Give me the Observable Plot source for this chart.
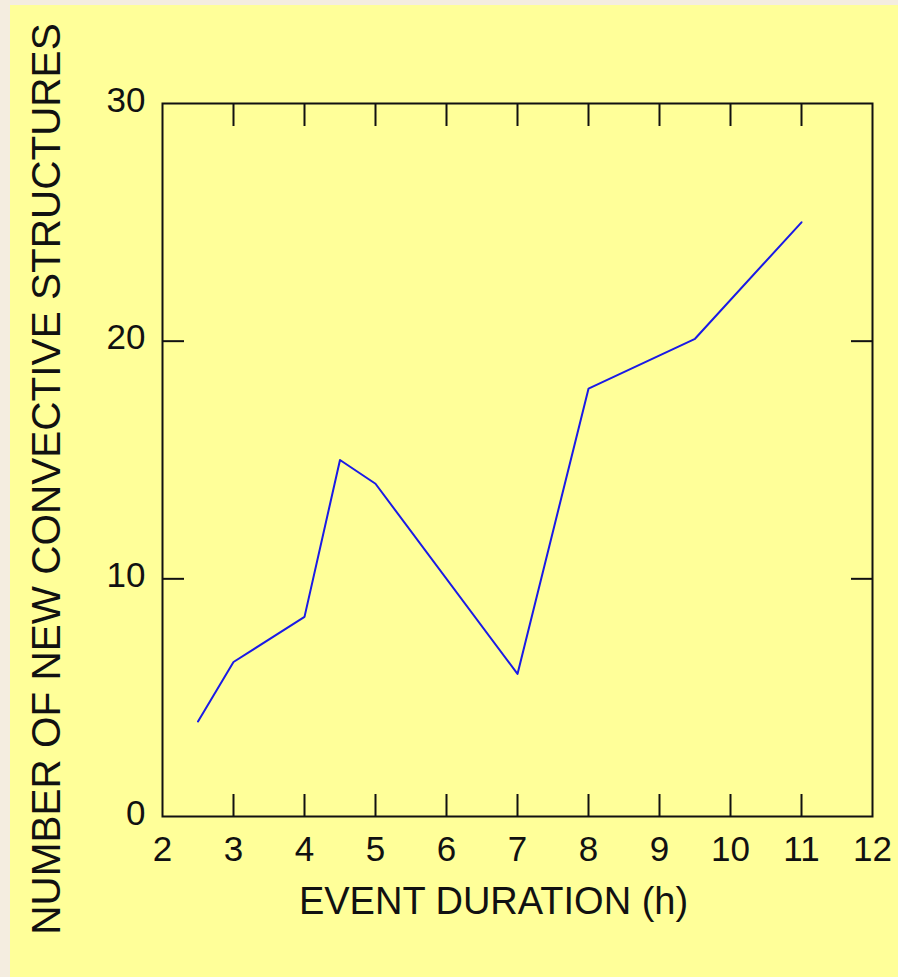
<!DOCTYPE html>
<html>
<head>
<meta charset="utf-8">
<script src="https://cdn.jsdelivr.net/npm/d3@7"></script>
<script src="https://cdn.jsdelivr.net/npm/@observablehq/plot@0.6"></script>
<style>
  html, body { margin: 0; padding: 0; background: #f4ede0; }
  #wrap { position: absolute; left: 10px; top: 5px; width: 888px; height: 972px; background: #ffff99; }
  svg { display: block; }
</style>
</head>
<body>
<div id="wrap"></div>
<script>
const duration = [2.5, 3, 4, 4.5, 5, 7, 8, 9.5, 11];
const structures = [4, 6.5, 8.4, 15, 14, 6, 18, 20.1, 25];
const xTickLabels = [2, 3, 4, 5, 6, 7, 8, 9, 10, 11, 12];
const yTickLabels = [0, 10, 20, 30];
const xInnerTicks = [3, 4, 5, 6, 7, 8, 9, 10, 11];
const yInnerTicks = [10, 20];
const xTitle = "EVENT DURATION (h)";
const yTitle = "NUMBER OF NEW CONVECTIVE STRUCTURES";

const data = duration.map((d, i) => ({duration: d, structures: structures[i]}));
const font = "'Liberation Sans', Arial, sans-serif";
const noLabel = () => "";

const chart = Plot.plot({
  width: 888,
  height: 972,
  marginLeft: 152,
  marginTop: 98,
  marginRight: 26,
  marginBottom: 161,
  style: {background: "transparent", fontFamily: font, color: "#111"},
  x: {domain: [2, 12]},
  y: {domain: [0, 30]},
  marks: [
    Plot.frame({stroke: "#111", strokeWidth: 2}),
    // inward ticks
    Plot.axisX(xInnerTicks, {anchor: "bottom", tickSize: -22, tickFormat: noLabel, label: null, strokeWidth: 2, stroke: "#111"}),
    Plot.axisX(xInnerTicks, {anchor: "top", tickSize: -22, tickFormat: noLabel, label: null, strokeWidth: 2, stroke: "#111"}),
    Plot.axisY(yInnerTicks, {anchor: "left", tickSize: -22, tickFormat: noLabel, label: null, strokeWidth: 2, stroke: "#111"}),
    Plot.axisY(yInnerTicks, {anchor: "right", tickSize: -22, tickFormat: noLabel, label: null, strokeWidth: 2, stroke: "#111"}),
    // labels
    Plot.axisX(xTickLabels, {anchor: "bottom", tickSize: 0, tickPadding: 20, label: null, fontSize: 35, fill: "#111"}),
    Plot.axisY(yTickLabels, {anchor: "left", tickSize: 0, tickPadding: 17, dy: -3, label: null, fontSize: 35, fill: "#111"}),
    Plot.text([xTitle], {frameAnchor: "bottom", dx: -24, dy: 97, fontSize: 38, fill: "#111", fontFamily: font}),
    Plot.text([yTitle], {frameAnchor: "left", textAnchor: "middle", rotate: -90, dx: -115, dy: 19, fontSize: 40.5, fill: "#111", fontFamily: font}),
    Plot.line(data, {x: "duration", y: "structures", stroke: "#1a1ae6", strokeWidth: 2})
  ]
});
document.getElementById("wrap").appendChild(chart);
</script>
</body>
</html>
